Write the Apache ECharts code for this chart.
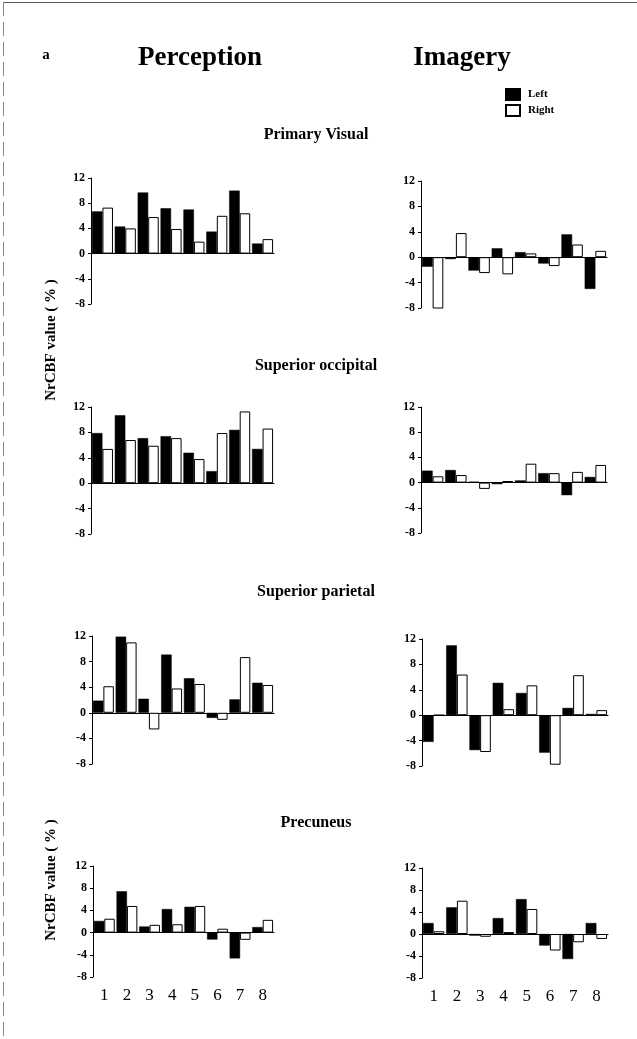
<!DOCTYPE html>
<html><head><meta charset="utf-8">
<script src="https://cdn.jsdelivr.net/npm/echarts@6/dist/echarts.min.js"></script>
<style>html,body{margin:0;padding:0;background:#fff}#c{width:637px;height:1039px}</style>
</head><body><div id="c"></div>
<script>
// ---- data ----
const categories = ['1','2','3','4','5','6','7','8'];
const yTicks = [-8, -4, 0, 4, 8, 12];
const conditions = ['Perception', 'Imagery'];
const regions = ['Primary Visual', 'Superior occipital', 'Superior parietal', 'Precuneus'];
const sides = ['Left', 'Right'];

const percPrimaryLeft    = [6.7, 4.3, 9.7, 7.2, 7.0, 3.5, 10.0, 1.6];
const percPrimaryRight   = [7.3, 4.0, 5.8, 3.9, 1.9, 6.0, 6.4, 2.3];
const imagPrimaryLeft    = [-1.5, -0.3, -2.1, 1.4, 0.8, -1.0, 3.6, -5.0];
const imagPrimaryRight   = [-8.1, 3.8, -2.5, -2.7, 0.6, -1.4, 2.0, 1.0];

const percOccipitalLeft  = [7.9, 10.7, 7.1, 7.4, 4.8, 1.9, 8.4, 5.4];
const percOccipitalRight = [5.4, 6.8, 5.9, 7.1, 3.8, 7.9, 11.3, 8.6];
const imagOccipitalLeft  = [1.9, 2.0, 0.15, -0.25, 0.35, 1.5, -2.0, 0.9];
const imagOccipitalRight = [1.0, 1.2, -1.0, 0.25, 3.0, 1.5, 1.7, 2.8];

const percParietalLeft   = [1.9, 11.9, 2.2, 9.1, 5.4, -0.8, 2.1, 4.7];
const percParietalRight  = [4.15, 11.0, -2.6, 3.8, 4.5, -1.1, 8.7, 4.35];
const imagParietalLeft   = [-4.2, 11.0, -5.5, 5.1, 3.5, -5.9, 1.15, 0.2];
const imagParietalRight  = [0.0, 6.4, -5.8, 0.95, 4.7, -7.8, 6.3, 0.8];

const percPrecuneusLeft  = [2.1, 7.45, 1.1, 4.25, 4.65, -1.25, -4.65, 1.0];
const percPrecuneusRight = [2.5, 4.8, 1.4, 1.5, 4.8, 0.7, -1.3, 2.3];
const imagPrecuneusLeft  = [2.0, 4.85, -0.3, 2.9, 6.35, -2.1, -4.55, 2.0];
const imagPrecuneusRight = [0.5, 6.05, -0.5, 0.35, 4.55, -3.0, -1.5, -0.9];

const panelData = [
  [percPrimaryLeft, percPrimaryRight], [imagPrimaryLeft, imagPrimaryRight],
  [percOccipitalLeft, percOccipitalRight], [imagOccipitalLeft, imagOccipitalRight],
  [percParietalLeft, percParietalRight], [imagParietalLeft, imagParietalRight],
  [percPrecuneusLeft, percPrecuneusRight], [imagPrecuneusLeft, imagPrecuneusRight]
];

// ---- layout ----
const layout = [
  {l: 91,  t: 178, r: 274, b: 304},
  {l: 421, t: 181, r: 607, b: 308},
  {l: 91,  t: 407, r: 274, b: 534},
  {l: 421, t: 407, r: 607, b: 533},
  {l: 92,  t: 636, r: 274, b: 764},
  {l: 422, t: 639, r: 608, b: 766},
  {l: 93,  t: 866, r: 274, b: 977},
  {l: 422, t: 868, r: 608, b: 978}
];
const regionTitleY = [135, 366, 592, 823];
const FONT = '"Liberation Serif", "DejaVu Serif", serif';

const grid = [], xAxis = [], yAxis = [], series = [];
layout.forEach((g, i) => {
  grid.push({left: g.l, top: g.t, width: g.r - g.l, height: g.b - g.t, containLabel: false});
  xAxis.push({
    gridIndex: i, type: 'category', data: categories,
    axisLine: {show: true, onZero: true, lineStyle: {color: '#000', width: 1}},
    axisTick: {show: false}, axisLabel: {show: false}, splitLine: {show: false}
  });
  yAxis.push({
    gridIndex: i, type: 'value',
    min: yTicks[0], max: yTicks[yTicks.length - 1], interval: yTicks[1] - yTicks[0],
    axisLine: {show: true, lineStyle: {color: '#000', width: 1}},
    axisTick: {show: true, length: 3, lineStyle: {color: '#000'}},
    axisLabel: {color: '#000', fontFamily: FONT, fontWeight: 'bold', fontSize: 12, margin: 6},
    splitLine: {show: false}
  });
  series.push({
    type: 'bar', name: sides[0], xAxisIndex: i, yAxisIndex: i,
    data: panelData[i][0], barGap: '0%', barCategoryGap: '8%',
    itemStyle: {color: '#000', borderColor: '#000', borderWidth: 0.5}
  });
  series.push({
    type: 'bar', name: sides[1], xAxisIndex: i, yAxisIndex: i,
    data: panelData[i][1], barGap: '0%', barCategoryGap: '8%',
    itemStyle: {color: '#fff', borderColor: '#000', borderWidth: 1}
  });
});
// bottom label axes
[6, 7].forEach(i => {
  xAxis.push({
    gridIndex: i, type: 'category', data: categories, position: 'bottom',
    axisLine: {show: false, onZero: false}, axisTick: {show: false}, splitLine: {show: false},
    axisLabel: {color: '#000', fontFamily: FONT, fontSize: 17, margin: 10}
  });
});

const graphic = [
  {type: 'line', shape: {x1: 3, y1: 2.5, x2: 637, y2: 2.5}, style: {stroke: '#555', lineWidth: 1}},
  {type: 'line', shape: {x1: 3.5, y1: 2, x2: 3.5, y2: 1039}, style: {stroke: '#888', lineWidth: 1, lineDash: [14, 6]}},
  {type: 'text', x: 46, y: 55, style: {text: 'a', font: 'bold 15px ' + FONT, fill: '#000', textAlign: 'center', textVerticalAlign: 'middle'}},
  {type: 'text', x: 200, y: 58, style: {text: conditions[0], font: 'bold 27px ' + FONT, fill: '#000', textAlign: 'center', textVerticalAlign: 'middle'}},
  {type: 'text', x: 462, y: 58, style: {text: conditions[1], font: 'bold 27px ' + FONT, fill: '#000', textAlign: 'center', textVerticalAlign: 'middle'}},
  {type: 'text', x: 51, y: 340, rotation: Math.PI / 2, style: {text: 'NrCBF value ( % )', font: 'bold 15px ' + FONT, fill: '#000', textAlign: 'center', textVerticalAlign: 'middle'}},
  {type: 'text', x: 51, y: 880, rotation: Math.PI / 2, style: {text: 'NrCBF value ( % )', font: 'bold 15px ' + FONT, fill: '#000', textAlign: 'center', textVerticalAlign: 'middle'}}
];
regions.forEach((r, k) => {
  graphic.push({type: 'text', x: 316, y: regionTitleY[k], style: {text: r, font: 'bold 16px ' + FONT, fill: '#000', textAlign: 'center', textVerticalAlign: 'middle'}});
});

const chart = echarts.init(document.getElementById('c'), null, {renderer: 'canvas'});
chart.setOption({
  animation: false,
  backgroundColor: '#fff',
  legend: {
    data: sides, orient: 'vertical', left: 505, top: 88, padding: 0,
    itemWidth: 14, itemHeight: 11, itemGap: 3, icon: 'rect',
    textStyle: {color: '#000', fontFamily: FONT, fontWeight: 'bold', fontSize: 11, padding: [0, 0, 0, 3]},
    selectedMode: false
  },
  grid, xAxis, yAxis, series, graphic
});
</script></body></html>
